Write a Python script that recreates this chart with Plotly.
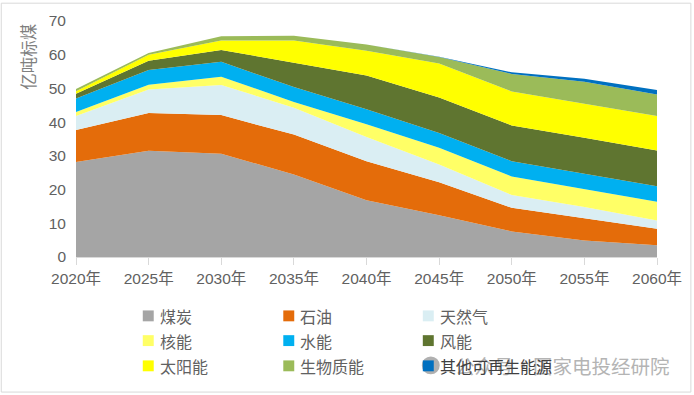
import plotly.graph_objects as go

years = ["2020年", "2025年", "2030年", "2035年", "2040年", "2045年", "2050年", "2055年", "2060年"]
coal = [28.2, 31.5, 30.6, 24.5, 16.8, 12.4, 7.6, 4.9, 3.5]
oil = [9.5, 11.2, 11.5, 11.8, 11.6, 9.8, 7.0, 6.7, 4.9]
gas = [4.1, 7.0, 8.9, 8.0, 7.2, 5.2, 3.8, 3.2, 2.4]
nuclear = [1.2, 1.4, 2.5, 1.7, 3.8, 5.0, 5.5, 5.4, 5.6]
hydro = [4.0, 4.4, 4.4, 4.4, 4.4, 4.4, 4.5, 4.5, 4.6]
wind = [1.4, 2.7, 3.5, 7.2, 10.0, 10.5, 10.6, 10.7, 10.6]
solar = [0.8, 1.8, 2.8, 6.6, 7.4, 10.1, 10.1, 10.1, 10.2]
biomass = [0.6, 0.5, 1.3, 1.4, 1.8, 1.9, 5.2, 6.5, 6.4]
other = [0, 0, 0, 0, 0, 0.1, 0.5, 0.9, 1.3]

series = [
    ("煤炭", coal, "#A5A5A5"),
    ("石油", oil, "#E46C0A"),
    ("天然气", gas, "#DAEEF3"),
    ("核能", nuclear, "#FFFF66"),
    ("水能", hydro, "#00B0F0"),
    ("风能", wind, "#5F7530"),
    ("太阳能", solar, "#FFFF00"),
    ("生物质能", biomass, "#9BBB59"),
    ("其他可再生能源", other, "#0070C0"),
]

W, H = 694, 395
L, R, T, B = 76, 35, 19, 137.5
FONT = "Liberation Sans, Noto Sans CJK SC, sans-serif"
CJK = "Noto Sans CJK SC, sans-serif"
GREY = "#616161"


def px(x):
    return (x - L) / (W - L - R)


def py(y):
    return 1 - (y - T) / (H - T - B)


fig = go.Figure()
for name, vals, color in series:
    fig.add_trace(go.Scatter(
        x=years, y=vals, name=name, stackgroup="one", mode="lines",
        line=dict(width=0, color=color), fillcolor=color,
        showlegend=False, hoverinfo="skip",
    ))

shapes = [dict(type="rect", xref="paper", yref="paper", x0=px(1), x1=px(W - 1), y0=py(H - 1), y1=py(1),
               line=dict(color="#D9D9D9", width=1), fillcolor="rgba(0,0,0,0)", layer="below")]
annotations = [dict(text="亿吨标煤", xref="paper", yref="paper", x=px(27), y=py(55), textangle=-90,
                    showarrow=False, font=dict(family=CJK, size=16.5, color="#7F7F7F"),
                    xanchor="center", yanchor="middle")]

# watermark
shapes.append(dict(type="circle", xref="paper", yref="paper", x0=px(423), x1=px(441), y0=py(376), y1=py(358),
                   line=dict(width=0), fillcolor="rgba(150,150,150,0.75)", layer="above"))
annotations.append(dict(text="公众号·国家电投经研院", xref="paper", yref="paper", x=px(674), y=py(367),
                        showarrow=False, xanchor="right", yanchor="middle",
                        font=dict(family=CJK, size=19.5, color="#B4B4B4")))

col_x = [143, 284, 424]
row_y = [317, 342, 367.5]
for i, (name, vals, color) in enumerate(series):
    sx = col_x[i % 3]
    sy = row_y[i // 3]
    shapes.append(dict(type="rect", xref="paper", yref="paper", x0=px(sx), x1=px(sx + 11),
                       y0=py(sy + 5.5), y1=py(sy - 5.5), fillcolor=color, line=dict(width=0), layer="above"))
    annotations.append(dict(text=name, xref="paper", yref="paper", x=px(sx + 15), y=py(sy), showarrow=False,
                            xanchor="left", yanchor="middle",
                            font=dict(family=CJK, size=16, color=GREY if i < 8 else "#404040")))

fig.update_layout(
    width=W, height=H, margin=dict(l=L, r=R, t=T, b=B),
    paper_bgcolor="white", plot_bgcolor="white", showlegend=False,
    font=dict(family=FONT, size=15, color=GREY),
    shapes=shapes, annotations=annotations,
    xaxis=dict(type="category", range=[0, 8], autorange=False, showgrid=False, showline=True,
               linecolor="#D9D9D9", linewidth=1, ticks="outside", ticklen=7, tickcolor="#D9D9D9", tickwidth=1,
               tickfont=dict(family=FONT, size=15.5, color=GREY), tickangle=0),
    yaxis=dict(range=[0, 70], autorange=False, dtick=10, showgrid=False, zeroline=False, showline=False,
               ticks="", ticklabelstandoff=9, tickfont=dict(family=FONT, size=15.5, color=GREY)),
)

fig.write_html("out.html", config={"displayModeBar": False},
               post_script="document.body.style.margin='0';document.body.style.overflow='hidden';")
